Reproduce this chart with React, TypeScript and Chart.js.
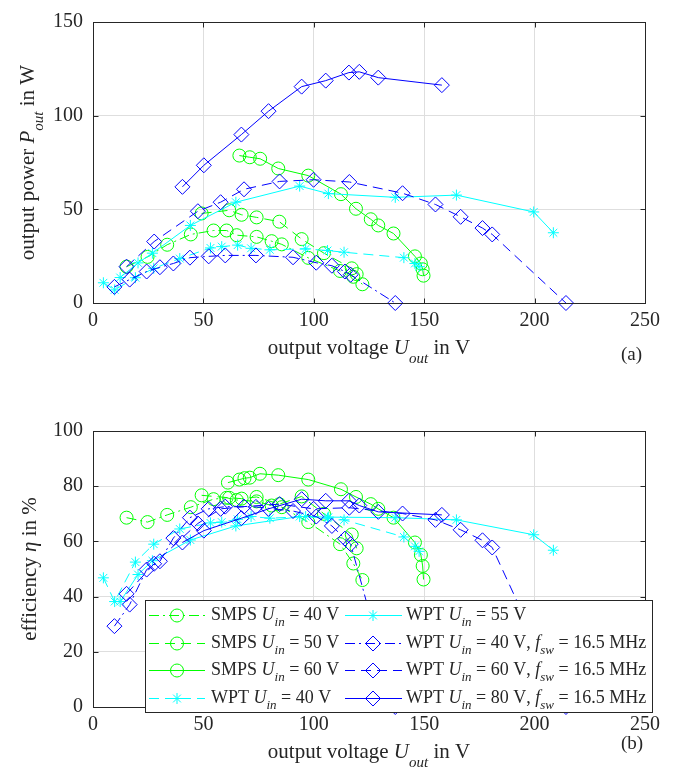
import React, { useEffect, useRef } from 'react';
import { Chart, registerables } from 'chart.js';

Chart.register(...registerables);

const FAMILY = "'Liberation Serif', 'Times New Roman', serif";
const TEXT = '#262626';
const GRID = '#dedede';
const GREEN = '#00ff00';
const CYAN = '#00ffff';
const BLUE = '#0000ff';

// ---------- axis ticks ----------
const xTickValues = [0, 50, 100, 150, 200, 250];
const powerTickValues = [0, 50, 100, 150];
const effTickValues = [0, 20, 40, 60, 80, 100];

// ---------- SMPS Uin = 40 V ----------
const smps40PowerV = [15.2, 24.7, 33.6, 44.3, 54.6, 60.5, 65.1, 74.1, 80.9, 85.5, 97.5, 111.9, 117.9, 122];
const smps40Power = [19.4, 24.6, 31.1, 36.6, 38.7, 38.7, 36.2, 35.3, 33.0, 31.3, 24.1, 17.1, 14.0, 10.0];
const smps40EffV = [15.2, 24.7, 33.6, 44.3, 54.6, 60.5, 65.1, 74.1, 80.9, 85.5, 97.5, 111.9, 117.9, 122];
const smps40Eff = [68.6, 67.0, 69.6, 72.4, 75.3, 75.8, 75.0, 74.5, 73.0, 72.4, 67.0, 59.0, 52.0, 46.0];

// ---------- SMPS Uin = 50 V ----------
const smps50PowerV = [49.2, 61.7, 67.3, 74.1, 84.4, 94.5, 104.6, 117.2, 119.4];
const smps50Power = [47.8, 49.5, 47.1, 45.7, 43.4, 34.1, 26.6, 18.5, 15.4];
const smps50EffV = [49.2, 61.7, 67.3, 74.1, 84.4, 94.5, 104.6, 117.2, 119.4];
const smps50Eff = [76.7, 75.8, 75.5, 76.1, 73.5, 76.3, 70.0, 62.5, 57.5];

// ---------- SMPS Uin = 60 V ----------
const smps60PowerV = [66.3, 71.0, 75.7, 83.9, 97.5, 112.3, 119.1, 125.8, 129.2, 136.1, 145.8, 148.5, 149.3, 149.7];
const smps60Power = [78.7, 77.8, 77.0, 71.8, 68.0, 58.1, 50.3, 44.7, 41.4, 37.1, 24.9, 21.1, 18.0, 14.6];
const smps60EffV = [61.1, 66.3, 68.6, 71.0, 75.6, 83.9, 97.5, 112.3, 119.1, 125.8, 129.2, 136.1, 145.8, 148.5, 149.3, 149.7];
const smps60Eff = [81.3, 82.4, 82.9, 83.1, 84.5, 84.0, 82.4, 78.9, 76.1, 73.5, 71.8, 68.6, 59.6, 55.1, 51.1, 46.2];

// ---------- WPT Uin = 40 V ----------
const wpt40PowerV = [4.7, 9.8, 19.2, 27.5, 39.3, 53.2, 58.3, 65.5, 71.6, 80.1, 96.3, 106.2, 113.7, 140.8, 145.8, 147.7];
const wpt40Power = [10.8, 7.0, 13.5, 18.5, 23.7, 29.4, 30.1, 30.9, 29.2, 28.4, 28.9, 28.0, 27.1, 24.2, 21.1, 19.4];
const wpt40EffV = [4.7, 9.8, 19.2, 27.5, 39.3, 53.2, 58.3, 65.5, 71.6, 80.1, 96.3, 106.2, 113.7, 140.8, 145.8, 147.7];
const wpt40Eff = [46.8, 38.2, 52.5, 59.0, 64.5, 66.7, 67.0, 68.0, 69.0, 68.4, 69.0, 68.4, 67.8, 61.6, 58.2, 56.4];

// ---------- WPT Uin = 55 V ----------
const wpt55PowerV = [12.3, 20.4, 26.9, 44.1, 64.7, 93.6, 106.6, 136.9, 164.6, 199.6, 208.5];
const wpt55Power = [13.6, 21.4, 26.6, 41.4, 53.8, 62.4, 58.4, 56.4, 57.6, 48.6, 37.5];
const wpt55EffV = [12.3, 20.4, 26.9, 44.1, 64.7, 93.6, 106.6, 136.9, 164.6, 199.6, 208.5];
const wpt55Eff = [38.2, 48.0, 53.0, 60.5, 65.6, 69.0, 68.8, 68.6, 67.8, 62.4, 56.8];

// ---------- WPT Uin = 40 V, fsw = 16.5 MHz ----------
const wptF40PowerV = [9.7, 16.6, 24.3, 30.3, 36.4, 43.9, 52.4, 59.9, 73.8, 90.6, 101.1, 108.2, 114.1, 116.7, 136.9];
const wptF40Power = [8.6, 12.5, 16.8, 19.1, 21.1, 24.2, 24.9, 25.4, 25.4, 24.4, 21.5, 19.9, 16.8, 15.1, 0];
const wptF40EffV = [9.7, 16.6, 24.3, 30.3, 36.4, 43.9, 52.4, 59.9, 73.8, 90.6, 101.1, 108.2, 114.1, 116.7, 136.9];
const wptF40Eff = [29.3, 37.1, 49.8, 52.8, 61.2, 68.6, 71.8, 72.6, 72.5, 71.0, 69.0, 65.6, 61.0, 59.0, 0];

// ---------- WPT Uin = 60 V, fsw = 16.5 MHz ----------
const wptF60PowerV = [15.2, 27.7, 47.5, 57.8, 68.4, 84.5, 99.9, 116.1, 140.2, 155.1, 166.5, 176.4, 180.8, 214.2];
const wptF60Power = [19.4, 32.8, 49.0, 53.8, 60.7, 64.9, 65.8, 64.6, 58.6, 52.6, 46.0, 40.0, 36.6, 0];
const wptF60EffV = [15.2, 27.7, 47.5, 57.8, 68.4, 84.5, 99.9, 116.1, 140.2, 155.1, 166.5, 176.4, 180.8, 214.2];
const wptF60Eff = [41.0, 51.9, 66.5, 71.8, 72.6, 73.5, 71.8, 72.2, 70.1, 67.8, 64.2, 60.4, 57.8, 0];

// ---------- WPT Uin = 80 V, fsw = 16.5 MHz ----------
const wptF80PowerV = [40.5, 50.2, 67.2, 79.5, 94.5, 105.4, 115.9, 120.6, 129.2, 158.0];
const wptF80Power = [62.0, 73.5, 89.9, 102.4, 115.5, 118.7, 123.0, 123.4, 120.3, 116.3];
const wptF80EffV = [40.5, 50.2, 67.2, 79.5, 94.5, 105.4, 115.9, 120.6, 129.2, 158.0];
const wptF80Eff = [59.6, 63.9, 68.4, 71.8, 75.3, 74.7, 74.7, 73.0, 70.7, 69.6];

type Seg = { t: string; it?: boolean; sub?: boolean };

const uin = (v: string): Seg[] => [{ t: 'U', it: true }, { t: 'in', it: true, sub: true }, { t: ` = ${v} V` }];
const fsw: Seg[] = [{ t: ', ' }, { t: 'f', it: true }, { t: 'sw', it: true, sub: true }, { t: ' = 16.5 MHz' }];

const DASHED = [10, 6];
const DASHDOT = [10, 4, 2, 4];
const SOLID: number[] = [];

const SERIES = [
  { label: [{ t: 'SMPS ' }, ...uin('40')], color: GREEN, dash: DASHDOT, marker: 'circle', pv: smps40PowerV, p: smps40Power, ev: smps40EffV, e: smps40Eff },
  { label: [{ t: 'SMPS ' }, ...uin('50')], color: GREEN, dash: DASHED, marker: 'circle', pv: smps50PowerV, p: smps50Power, ev: smps50EffV, e: smps50Eff },
  { label: [{ t: 'SMPS ' }, ...uin('60')], color: GREEN, dash: SOLID, marker: 'circle', pv: smps60PowerV, p: smps60Power, ev: smps60EffV, e: smps60Eff },
  { label: [{ t: 'WPT ' }, ...uin('40')], color: CYAN, dash: DASHED, marker: 'star', pv: wpt40PowerV, p: wpt40Power, ev: wpt40EffV, e: wpt40Eff },
  { label: [{ t: 'WPT ' }, ...uin('55')], color: CYAN, dash: SOLID, marker: 'star', pv: wpt55PowerV, p: wpt55Power, ev: wpt55EffV, e: wpt55Eff },
  { label: [{ t: 'WPT ' }, ...uin('40'), ...fsw], color: BLUE, dash: DASHDOT, marker: 'rectRot', pv: wptF40PowerV, p: wptF40Power, ev: wptF40EffV, e: wptF40Eff },
  { label: [{ t: 'WPT ' }, ...uin('60'), ...fsw], color: BLUE, dash: DASHED, marker: 'rectRot', pv: wptF60PowerV, p: wptF60Power, ev: wptF60EffV, e: wptF60Eff },
  { label: [{ t: 'WPT ' }, ...uin('80'), ...fsw], color: BLUE, dash: SOLID, marker: 'rectRot', pv: wptF80PowerV, p: wptF80Power, ev: wptF80EffV, e: wptF80Eff },
];

const RADIUS: Record<string, number> = { circle: 6.5, rectRot: 7.5, star: 5.5 };

function drawRich(ctx: CanvasRenderingContext2D, segs: Seg[], x: number, y: number, size: number, align: 'left' | 'center', subOff = 0.38) {
  const fonts = segs.map((s) => `${s.it ? 'italic ' : ''}${s.sub ? Math.round(size * 0.72) : size}px ${FAMILY}`);
  let total = 0;
  segs.forEach((s, i) => {
    ctx.font = fonts[i];
    total += ctx.measureText(s.t).width;
  });
  let cx = align === 'center' ? x - total / 2 : x;
  ctx.textAlign = 'left';
  ctx.textBaseline = 'alphabetic';
  ctx.fillStyle = TEXT;
  segs.forEach((s, i) => {
    ctx.font = fonts[i];
    ctx.fillText(s.t, cx, y + (s.sub ? size * subOff : 0));
    cx += ctx.measureText(s.t).width;
  });
}

function drawMarker(ctx: CanvasRenderingContext2D, style: string, x: number, y: number, color: string) {
  const r = RADIUS[style];
  ctx.save();
  ctx.setLineDash([]);
  ctx.strokeStyle = color;
  ctx.lineWidth = 1;
  ctx.beginPath();
  if (style === 'circle') {
    ctx.arc(x, y, r, 0, Math.PI * 2);
  } else if (style === 'rectRot') {
    ctx.moveTo(x, y - r);
    ctx.lineTo(x + r, y);
    ctx.lineTo(x, y + r);
    ctx.lineTo(x - r, y);
    ctx.closePath();
  } else {
    for (let k = 0; k < 4; k++) {
      const ang = (k * Math.PI) / 4;
      ctx.moveTo(x - Math.cos(ang) * r, y - Math.sin(ang) * r);
      ctx.lineTo(x + Math.cos(ang) * r, y + Math.sin(ang) * r);
    }
  }
  ctx.stroke();
  ctx.restore();
}

type Decor = {
  yTitle: Seg[];
  yTitleX: number;
  tag: string;
  tagDy: number;
  ticksX: number[];
  ticksY: number[];
  legend: boolean;
};

function decorPlugin(d: Decor) {
  return {
    id: 'decor',
    afterDraw(chart: any) {
      const ctx: CanvasRenderingContext2D = chart.ctx;
      const a = chart.chartArea;
      const xs = chart.scales.x;
      const ys = chart.scales.y;
      ctx.save();
      const L = Math.round(a.left) + 0.5;
      const R = Math.round(a.right) + 0.5;
      const T = Math.round(a.top) + 0.5;
      const B = Math.round(a.bottom) + 0.5;
      ctx.strokeStyle = TEXT;
      ctx.lineWidth = 1;
      ctx.setLineDash([]);
      ctx.strokeRect(L, T, R - L, B - T);
      ctx.beginPath();
      const tl = 5;
      d.ticksX.forEach((v) => {
        const px = Math.round(xs.getPixelForValue(v)) + 0.5;
        ctx.moveTo(px, B);
        ctx.lineTo(px, B - tl);
        ctx.moveTo(px, T);
        ctx.lineTo(px, T + tl);
      });
      d.ticksY.forEach((v) => {
        const py = Math.round(ys.getPixelForValue(v)) + 0.5;
        ctx.moveTo(L, py);
        ctx.lineTo(L + tl, py);
        ctx.moveTo(R, py);
        ctx.lineTo(R - tl, py);
      });
      ctx.stroke();

      // x title
      drawRich(
        ctx,
        [{ t: 'output voltage ' }, { t: 'U', it: true }, { t: 'out', it: true, sub: true }, { t: ' in V' }],
        (a.left + a.right) / 2,
        a.bottom + 51,
        21,
        'center',
        0.42
      );
      // tag
      drawRich(ctx, [{ t: d.tag }], 621, a.bottom + d.tagDy, 19, 'left');
      // y title
      ctx.save();
      ctx.translate(d.yTitleX, (a.top + a.bottom) / 2);
      ctx.rotate(-Math.PI / 2);
      drawRich(ctx, d.yTitle, 0, 0, 21, 'center', 0.42);
      ctx.restore();

      if (d.legend) {
        const bx = 145, by = 220, bw = 507, bh = 112;
        ctx.fillStyle = '#ffffff';
        ctx.fillRect(bx, by, bw, bh);
        ctx.strokeStyle = TEXT;
        ctx.lineWidth = 1;
        ctx.strokeRect(bx + 0.5, by + 0.5, bw, bh);
        const rows = [235, 263, 290, 318];
        const cols = [
          { l0: 149, l1: 205, m: 177, tx: 211 },
          { l0: 345, l1: 402, m: 373, tx: 406 },
        ];
        SERIES.forEach((s, i) => {
          const c = cols[Math.floor(i / 4)];
          const ry = rows[i % 4];
          ctx.save();
          ctx.strokeStyle = s.color;
          ctx.lineWidth = 1;
          ctx.setLineDash(s.dash);
          ctx.beginPath();
          ctx.moveTo(c.l0, ry + 0.5);
          ctx.lineTo(c.l1, ry + 0.5);
          ctx.stroke();
          ctx.restore();
          drawMarker(ctx, s.marker, c.m, ry + 0.5, s.color);
          drawRich(ctx, s.label as Seg[], c.tx, ry + 5, 18, 'left', 0.36);
        });
      }
      ctx.restore();
    },
  };
}

function buildChart(canvas: HTMLCanvasElement, kind: 'power' | 'eff') {
  const isPower = kind === 'power';
  const datasets = SERIES.map((s, i) => ({
    label: s.label.map((g) => g.t).join(''),
    data: (isPower ? s.pv : s.ev).map((v, j) => ({ x: v, y: (isPower ? s.p : s.e)[j] })),
    borderColor: s.color,
    borderWidth: 1,
    borderDash: s.dash,
    backgroundColor: 'rgba(0,0,0,0)',
    pointStyle: s.marker,
    pointRadius: RADIUS[s.marker],
    pointBorderColor: s.color,
    pointBackgroundColor: 'rgba(0,0,0,0)',
    pointBorderWidth: 1,
    tension: 0,
    fill: false,
    clip: false as any,
    order: 20 - i,
  }));
  const canvasH = isPower ? 380 : 387;
  const plotTop = isPower ? 14 : 51;
  const plotBottom = isPower ? 303 : 327;
  const yTicks = isPower ? powerTickValues : effTickValues;
  return new Chart(canvas, {
    type: 'line',
    data: { datasets },
    options: {
      animation: false,
      responsive: false,
      maintainAspectRatio: false,
      events: [],
      layout: { padding: { left: 0, right: 37, top: plotTop, bottom: 0 } },
      plugins: { legend: { display: false }, tooltip: { enabled: false } },
      scales: {
        x: {
          type: 'linear',
          min: xTickValues[0],
          max: xTickValues[xTickValues.length - 1],
          afterBuildTicks: (sc: any) => {
            sc.ticks = xTickValues.map((v) => ({ value: v }));
          },
          ticks: { font: { family: FAMILY, size: 20 }, color: TEXT, padding: 6, maxRotation: 0, autoSkip: false },
          grid: { color: GRID, lineWidth: 1, drawTicks: false },
          border: { display: false },
          afterFit: (sc: any) => {
            sc.height = canvasH - plotBottom;
          },
        },
        y: {
          type: 'linear',
          min: yTicks[0],
          max: yTicks[yTicks.length - 1],
          afterBuildTicks: (sc: any) => {
            sc.ticks = yTicks.map((v) => ({ value: v }));
          },
          ticks: { font: { family: FAMILY, size: 20 }, color: TEXT, padding: 10, autoSkip: false },
          grid: { color: GRID, lineWidth: 1, drawTicks: false },
          border: { display: false },
          afterFit: (sc: any) => {
            sc.width = 93;
          },
        },
      },
    } as any,
    plugins: [
      decorPlugin({
        yTitle: isPower
          ? [{ t: 'output power ' }, { t: 'P', it: true }, { t: 'out', it: true, sub: true }, { t: ' in W' }]
          : [{ t: 'efficiency ' }, { t: 'η', it: true }, { t: ' in %' }],
        yTitleX: isPower ? 34 : 36,
        tag: isPower ? '(a)' : '(b)',
        tagDy: isPower ? 57 : 42,
        ticksX: xTickValues,
        ticksY: yTicks,
        legend: !isPower,
      }),
    ],
  });
}

export default function App() {
  const topRef = useRef<HTMLCanvasElement>(null);
  const botRef = useRef<HTMLCanvasElement>(null);
  useEffect(() => {
    if (!topRef.current || !botRef.current) return;
    const c1 = buildChart(topRef.current, 'power');
    const c2 = buildChart(botRef.current, 'eff');
    return () => {
      c1.destroy();
      c2.destroy();
    };
  }, []);
  return (
    <div style={{ position: 'absolute', left: 0, top: 0, width: 682, height: 767, background: '#fff', overflow: 'hidden' }}>
      <canvas ref={topRef} width={682} height={380} style={{ position: 'absolute', left: 0, top: 0, width: 682, height: 380 }} />
      <canvas ref={botRef} width={682} height={387} style={{ position: 'absolute', left: 0, top: 380, width: 682, height: 387 }} />
    </div>
  );
}
